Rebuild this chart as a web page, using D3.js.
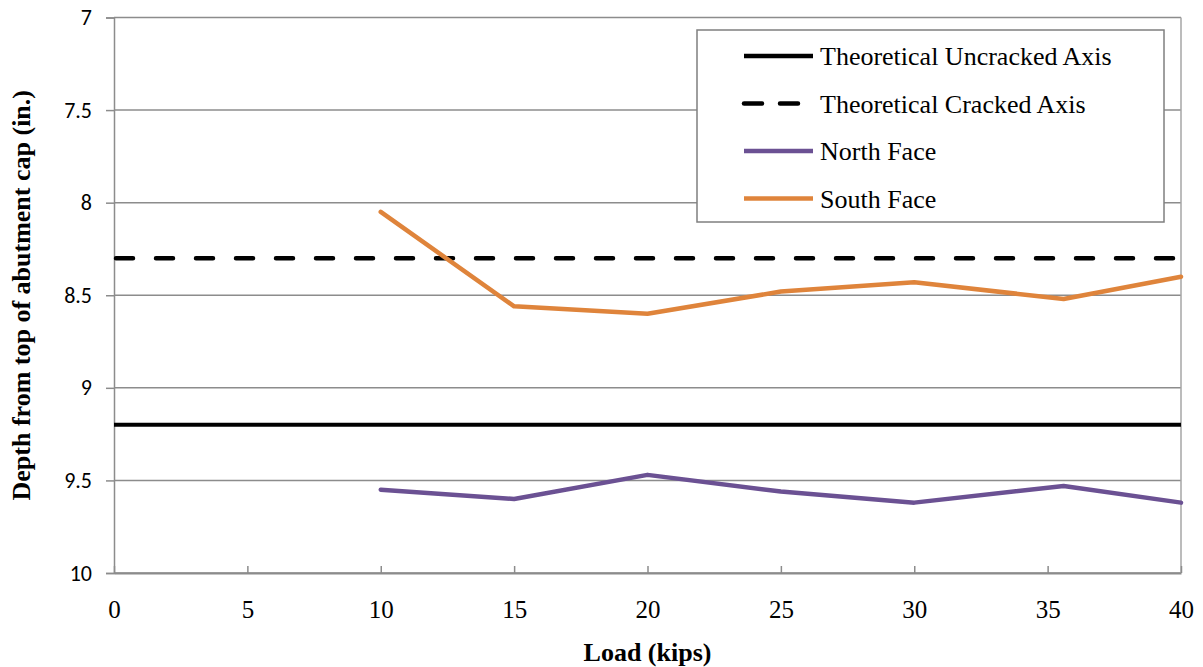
<!DOCTYPE html>
<html>
<head>
<meta charset="utf-8">
<script src="https://cdn.jsdelivr.net/npm/d3@7"></script>
<style>
  body { margin: 0; background: #fff; }
  svg { display: block; }
</style>
</head>
<body>
<div id="chart"></div>
<script>
// data
const loads = [10, 15, 20, 25, 30, 35.6, 40];
const northFace = [9.55, 9.60, 9.47, 9.56, 9.62, 9.53, 9.62];
const southFace = [8.05, 8.56, 8.60, 8.48, 8.43, 8.52, 8.40];
const uncrackedAxis = 9.2;
const crackedAxis = 8.3;
const xTicks = [0, 5, 10, 15, 20, 25, 30, 35, 40];
const yTicks = [7, 7.5, 8, 8.5, 9, 9.5, 10];

const width = 1203, height = 667;
const margin = {top: 17.5, right: 22, bottom: 94, left: 114};

const svg = d3.select("#chart").append("svg")
    .attr("width", width)
    .attr("height", height);

const x = d3.scaleLinear().domain([0, 40]).range([margin.left, width - margin.right]);
const y = d3.scaleLinear().domain([7, 10]).range([margin.top, height - margin.bottom]);

const gridColor = "#8c8c8c";
const serif = "'Liberation Serif', 'Times New Roman', serif";

// horizontal gridlines
svg.append("g")
    .selectAll("line")
    .data(yTicks)
    .join("line")
    .attr("x1", x(0)).attr("x2", x(40))
    .attr("y1", d => y(d)).attr("y2", d => y(d))
    .attr("stroke", gridColor)
    .attr("stroke-width", 1.5);

// right border
svg.append("line")
    .attr("x1", x(40)).attr("x2", x(40))
    .attr("y1", y(7)).attr("y2", y(10))
    .attr("stroke", "#a6a6a6")
    .attr("stroke-width", 1.5);

// y axis (ticks outward, sans labels)
const yAxis = svg.append("g")
    .attr("transform", `translate(${x(0)},0)`)
    .call(d3.axisLeft(y).tickValues(yTicks).tickSize(8).tickPadding(14).tickFormat(d3.format("")));
yAxis.select(".domain").attr("stroke", gridColor).attr("stroke-width", 1.5);
yAxis.selectAll(".tick line").attr("stroke", gridColor).attr("stroke-width", 1.5);
yAxis.selectAll("text")
    .attr("font-family", "Carlito, 'Liberation Sans', Arial, sans-serif")
    .attr("font-size", "22px")
    .attr("fill", "#000");

// x axis (ticks inward, serif labels)
const xAxis = svg.append("g")
    .attr("transform", `translate(0,${y(10)})`)
    .call(d3.axisBottom(x).tickValues(xTicks).tickSizeInner(-7).tickSizeOuter(0).tickPadding(27));
xAxis.select(".domain").attr("stroke", gridColor).attr("stroke-width", 2);
xAxis.selectAll(".tick line").attr("stroke", gridColor).attr("stroke-width", 1.5);
xAxis.selectAll("text")
    .attr("font-family", serif)
    .attr("font-size", "25px")
    .attr("fill", "#000");

// theoretical axes
svg.append("line")
    .attr("x1", x(0)).attr("x2", x(40))
    .attr("y1", y(uncrackedAxis)).attr("y2", y(uncrackedAxis))
    .attr("stroke", "#000")
    .attr("stroke-width", 4);

svg.append("line")
    .attr("x1", x(0) + 2).attr("x2", x(40))
    .attr("y1", y(crackedAxis)).attr("y2", y(crackedAxis))
    .attr("stroke", "#000")
    .attr("stroke-width", 4.5)
    .attr("stroke-linecap", "round")
    .attr("stroke-dasharray", "17,23");

// measured series
const line = d3.line()
    .x(d => x(d[0]))
    .y(d => y(d[1]));

const series = [
    {name: "North Face", values: northFace, color: "#6b5193"},
    {name: "South Face", values: southFace, color: "#df843b"}
];

series.forEach(s => {
    svg.append("path")
        .datum(loads.map((l, i) => [l, s.values[i]]))
        .attr("d", line)
        .attr("fill", "none")
        .attr("stroke", s.color)
        .attr("stroke-width", 4.5)
        .attr("stroke-linejoin", "round")
        .attr("stroke-linecap", "round");
});

// axis titles
svg.append("text")
    .attr("x", (x(0) + x(40)) / 2)
    .attr("y", 661)
    .attr("text-anchor", "middle")
    .attr("font-family", serif)
    .attr("font-weight", "bold")
    .attr("font-size", "26px")
    .text("Load (kips)");

svg.append("text")
    .attr("transform", `translate(30,${(y(7) + y(10)) / 2}) rotate(-90)`)
    .attr("text-anchor", "middle")
    .attr("font-family", serif)
    .attr("font-weight", "bold")
    .attr("font-size", "26px")
    .text("Depth from top of abutment cap (in.)");

// legend
const legendItems = [
    {name: "Theoretical Uncracked Axis", color: "#000", dash: null},
    {name: "Theoretical Cracked Axis", color: "#000", dash: "18,18"},
    {name: "North Face", color: "#6b5193", dash: null},
    {name: "South Face", color: "#df843b", dash: null}
];

const legend = svg.append("g").attr("transform", "translate(697,30)");
legend.append("rect")
    .attr("width", 467)
    .attr("height", 192)
    .attr("fill", "#fff")
    .attr("stroke", "#7f7f7f")
    .attr("stroke-width", 1.5);

const rows = legend.selectAll("g.row")
    .data(legendItems)
    .join("g")
    .attr("class", "row")
    .attr("transform", (d, i) => `translate(0,${26 + i * 47.5})`);

rows.append("line")
    .attr("x1", 47).attr("x2", 116)
    .attr("stroke", d => d.color)
    .attr("stroke-width", 4.5)
    .attr("stroke-linecap", d => d.dash ? "round" : "butt")
    .attr("stroke-dasharray", d => d.dash);

rows.append("text")
    .attr("x", 123)
    .attr("y", 9)
    .attr("font-family", serif)
    .attr("font-size", "26px")
    .text(d => d.name);
</script>
</body>
</html>
